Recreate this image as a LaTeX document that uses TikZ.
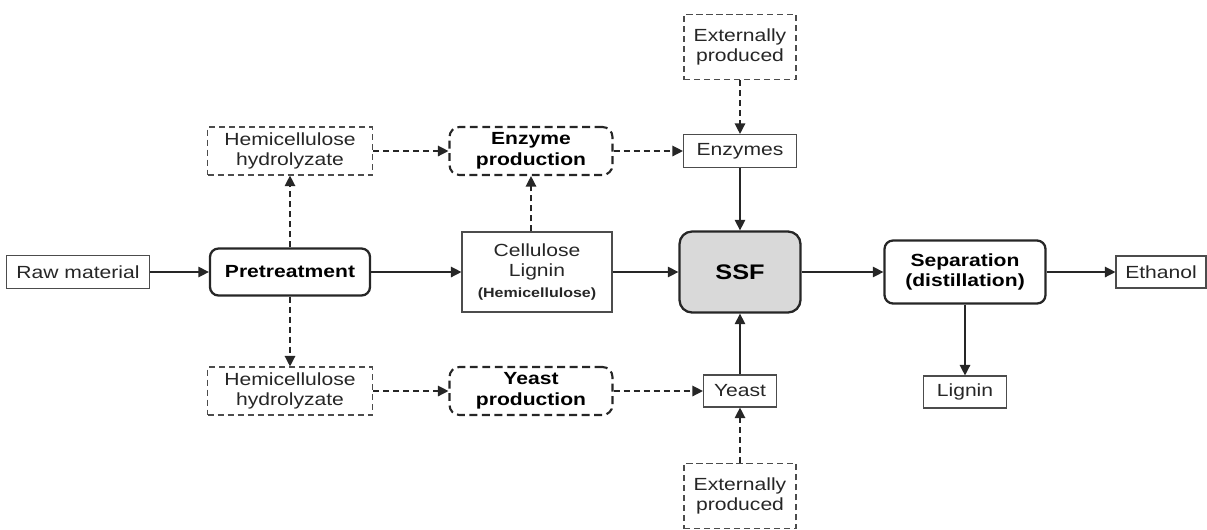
\documentclass[tikz,border=0pt]{standalone}
\usepackage{fontspec}
\setmainfont{Liberation Sans}[FakeStretch=1.2]
\usepackage{xcolor}
\usepackage{tikz}
\usetikzlibrary{arrows.meta,positioning}
\definecolor{ssfgray}{RGB}{217,217,217}

\begin{document}
\begin{tikzpicture}[
  font=\fontsize{10}{11.8}\selectfont,
  pbox/.style={draw=black!70, line width=0.65pt, align=center, text=black!85, inner sep=2pt},
  dbox/.style={draw=black!70, line width=0.65pt, dash pattern=on 3.5pt off 2.2pt, align=center,
               text=black!85, inner sep=2pt, minimum width=2.24cm},
  unit/.style={draw=black!85, line width=1.3pt, rounded corners=0.17cm, align=center,
               font=\fontsize{10}{11.8}\selectfont\bfseries, inner sep=2pt},
  dunit/.style={unit, dash pattern=on 4.5pt off 2.6pt, line width=1.2pt, rounded corners=0.2cm},
  arrow/.style={-{Triangle[length=2.1mm, width=2.1mm]}, line width=0.75pt, draw=black!85},
  darrow/.style={arrow, dash pattern=on 3.5pt off 2.2pt},
]
  \useasboundingbox (0,0) rectangle (24.14,-10.58);

  % ---- Main line ----
  \node[pbox, minimum width=2.86cm, minimum height=0.66cm] (raw) at (1.56,-5.44) {Raw material};
  \node[unit, minimum width=3.2cm, minimum height=0.94cm] (pre) at (5.80,-5.44) {Pretreatment};
  \node[pbox, minimum width=3.0cm, minimum height=1.6cm] (cell) at (10.74,-5.44)
    {Cellulose\\Lignin\\{\fontsize{7.6}{9}\selectfont\bfseries (Hemicellulose)}};
  \node[unit, fill=ssfgray, rounded corners=0.25cm, minimum width=2.42cm, minimum height=1.62cm,
        font=\fontsize{12}{13}\selectfont\bfseries] (ssf) at (14.80,-5.44) {SSF};
  \node[unit, minimum width=3.22cm, minimum height=1.26cm] (sep) at (19.30,-5.44) {Separation\\(distillation)};
  \node[pbox, minimum width=1.8cm, minimum height=0.64cm] (eth) at (23.22,-5.44) {Ethanol};
  \node[pbox, minimum width=1.66cm, minimum height=0.64cm] (lig) at (19.30,-7.84) {Lignin};

  % ---- Enzyme branch ----
  \node[dbox, minimum width=3.3cm, minimum height=0.96cm] (hemi1) at (5.80,-3.02) {Hemicellulose\\hydrolyzate};
  \node[dunit, minimum width=3.26cm, minimum height=0.96cm] (enzprod) at (10.62,-3.02) {Enzyme\\production};
  \node[pbox, minimum width=2.26cm, minimum height=0.66cm] (enz) at (14.80,-3.02) {Enzymes};
  \node[dbox, minimum height=1.3cm] (ext1) at (14.80,-0.94) {Externally\\produced};

  % ---- Yeast branch ----
  \node[dbox, minimum width=3.3cm, minimum height=0.96cm] (hemi2) at (5.80,-7.82) {Hemicellulose\\hydrolyzate};
  \node[dunit, minimum width=3.26cm, minimum height=0.96cm] (yeastprod) at (10.62,-7.82) {Yeast\\production};
  \node[pbox, minimum width=1.46cm, minimum height=0.64cm] (yeast) at (14.80,-7.82) {Yeast};
  \node[dbox, minimum height=1.3cm] (ext2) at (14.80,-9.92) {Externally\\produced};

  % ---- Arrows ----
  \draw[arrow] (raw) -- (pre);
  \draw[arrow] (pre) -- (cell);
  \draw[arrow] (cell) -- (ssf);
  \draw[arrow] (ssf) -- (sep);
  \draw[arrow] (sep) -- (eth);
  \draw[arrow] (sep) -- (lig);
  \draw[arrow] (enz) -- (ssf);
  \draw[arrow] (yeast) -- (ssf);

  \draw[darrow] (pre) -- (hemi1);
  \draw[darrow] (pre) -- (hemi2);
  \draw[darrow] (hemi1) -- (enzprod);
  \draw[darrow] (cell.north -| enzprod) -- (enzprod);
  \draw[darrow] (enzprod) -- (enz);
  \draw[darrow] (ext1) -- (enz);
  \draw[darrow] (hemi2) -- (yeastprod);
  \draw[darrow] (yeastprod) -- (yeast);
  \draw[darrow] (ext2) -- (yeast);
\end{tikzpicture}
\end{document}
